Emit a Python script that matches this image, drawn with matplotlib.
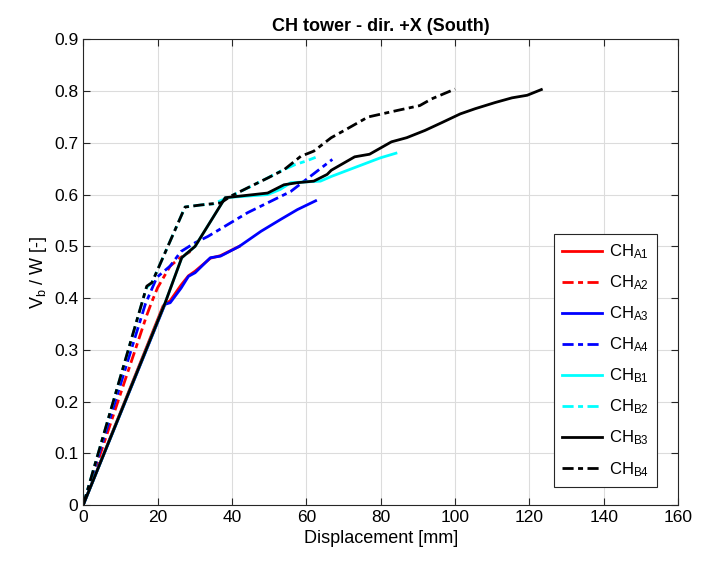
import matplotlib.pyplot as plt

plt.rcParams['font.family'] = ['Liberation Sans', 'DejaVu Sans']
plt.rcParams['mathtext.fontset'] = 'custom'
plt.rcParams['mathtext.rm'] = 'Liberation Sans'
plt.rcParams['mathtext.it'] = 'Liberation Sans'

# Displacement [mm] and Vb/W [-]
x_a1 = [0, 21.5, 23.4, 26.3, 28.3, 30.1, 34.2, 36.9, 42.0]
y_a1 = [0, 0.385, 0.395, 0.425, 0.443, 0.452, 0.477, 0.482, 0.500]

x_a2 = [0, 14.0, 17.0, 18.3, 20.0, 23.4, 26.1, 28.8]
y_a2 = [0, 0.300, 0.365, 0.390, 0.420, 0.462, 0.478, 0.490]

x_a3 = [0, 22.0, 23.4, 26.3, 28.3, 30.1, 34.2, 36.9, 38.0, 42.0, 47.8, 53.1, 57.6, 62.5]
y_a3 = [0, 0.388, 0.391, 0.419, 0.442, 0.449, 0.478, 0.481, 0.485, 0.500, 0.529, 0.552, 0.571, 0.588]

x_a4 = [0, 16.7, 19.8, 23.4, 26.3, 30.1, 33.5, 44.2, 55.8, 67.0]
y_a4 = [0, 0.388, 0.440, 0.462, 0.490, 0.507, 0.519, 0.565, 0.606, 0.668]

x_b1 = [0, 22.0, 26.5, 30.1, 38.2, 49.6, 53.0, 55.8, 63.8, 66.7, 79.9, 84.1]
y_b1 = [0, 0.390, 0.478, 0.500, 0.594, 0.600, 0.610, 0.623, 0.626, 0.635, 0.671, 0.680]

x_b2 = [0, 17.0, 18.5, 27.4, 31.7, 35.0, 39.7, 44.0, 49.0, 53.0, 57.0, 60.0, 62.5]
y_b2 = [0, 0.420, 0.430, 0.576, 0.580, 0.582, 0.597, 0.612, 0.630, 0.645, 0.658, 0.665, 0.672]

x_b3 = [0, 22.0, 26.5, 30.1, 38.2, 49.6, 54.0, 57.6, 62.0, 65.6, 66.7, 73.0, 77.0, 82.9,
        87.0, 91.9, 96.4, 101.4, 105.4, 110.8, 115.3, 119.4, 123.2]
y_b3 = [0, 0.390, 0.478, 0.500, 0.594, 0.603, 0.619, 0.623, 0.626, 0.639, 0.647, 0.673, 0.678, 0.702,
        0.710, 0.724, 0.739, 0.756, 0.766, 0.778, 0.787, 0.792, 0.803]

x_b4 = [0, 17.1, 18.5, 27.4, 31.7, 37.0, 39.7, 44.2, 49.6, 54.0, 58.5, 62.0, 66.7, 71.2,
        76.6, 84.7, 90.5, 93.7, 100.0]
y_b4 = [0, 0.423, 0.430, 0.576, 0.580, 0.584, 0.597, 0.613, 0.632, 0.648, 0.674, 0.684, 0.710, 0.728,
        0.750, 0.763, 0.772, 0.785, 0.804]

dashdot = (0, (4, 1.6, 1.8, 1.6))

series = [
    (x_a1, y_a1, '#ff0000', '-', 'CH$_\\mathregular{A1}$'),
    (x_a2, y_a2, '#ff0000', dashdot, 'CH$_\\mathregular{A2}$'),
    (x_a3, y_a3, '#0000ff', '-', 'CH$_\\mathregular{A3}$'),
    (x_a4, y_a4, '#0000ff', dashdot, 'CH$_\\mathregular{A4}$'),
    (x_b1, y_b1, '#00ffff', '-', 'CH$_\\mathregular{B1}$'),
    (x_b2, y_b2, '#00ffff', dashdot, 'CH$_\\mathregular{B2}$'),
    (x_b3, y_b3, '#000000', '-', 'CH$_\\mathregular{B3}$'),
    (x_b4, y_b4, '#000000', dashdot, 'CH$_\\mathregular{B4}$'),
]

fig = plt.figure(figsize=(7.05, 5.61), dpi=100)
ax = fig.add_axes([0.118, 0.0998, 0.844, 0.83])

for x, y, c, ls, lab in series:
    ax.plot(x, y, color=c, linestyle=ls, linewidth=2, label=lab)

ax.set_xlim(0, 160)
ax.set_ylim(0, 0.9)
ax.set_xticks(range(0, 161, 20))
ax.set_yticks([i / 10 for i in range(10)])
ax.set_yticklabels(['0'] + ['%.1f' % (i / 10) for i in range(1, 10)])
ax.grid(True, color='#dcdcdc', linewidth=0.8)
ax.set_axisbelow(True)
ax.tick_params(direction='in', top=True, right=True, labelsize=12.5, length=5, color='#262626')
for s in ax.spines.values():
    s.set_color('#262626')
    s.set_linewidth(0.8)

ax.set_xlabel('Displacement [mm]', fontsize=13)
ax.set_ylabel('V$_\\mathregular{b}$ / W [-]', fontsize=13)
ax.set_title('CH tower - dir. +X (South)', fontsize=13, fontweight='bold')

leg = ax.legend(loc='lower right', fontsize=12, fancybox=False, edgecolor='#262626',
                framealpha=1, handlelength=2.4, handletextpad=0.4, labelspacing=0.74,
                borderpad=0.5, borderaxespad=0, bbox_to_anchor=(0.965, 0.039))
leg.get_frame().set_linewidth(0.8)

fig.savefig('out.png', dpi=100)
